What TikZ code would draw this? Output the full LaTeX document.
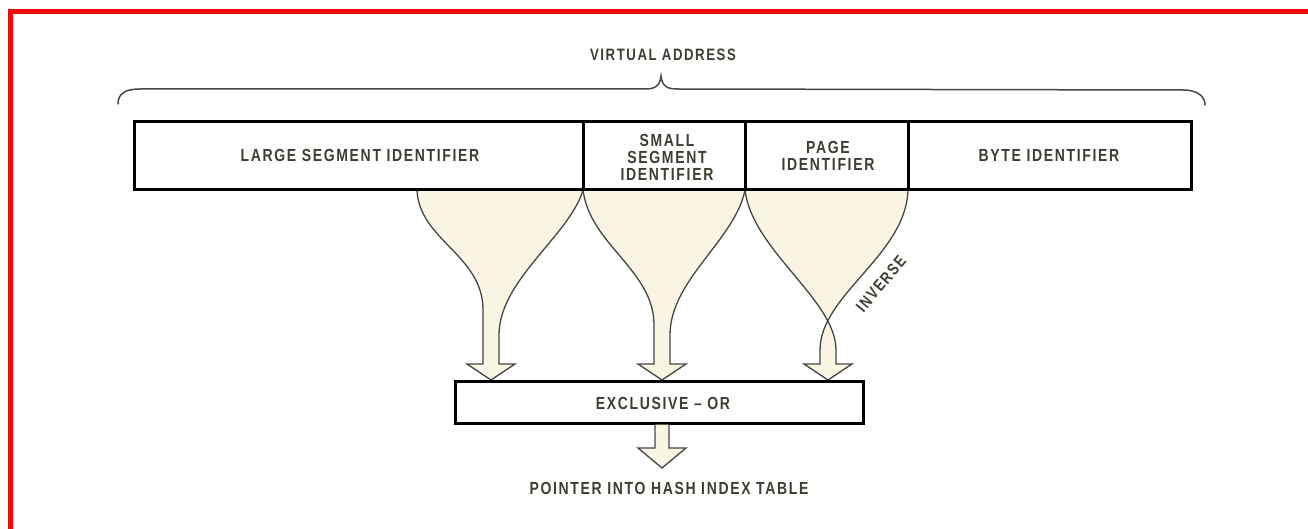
\documentclass[tikz,border=0pt]{standalone}
\usepackage{fontspec}
\newfontfamily\labfont[FakeStretch=0.8,LetterSpace=9.5,UprightFont={* Bold}]{Liberation Sans}
\definecolor{labcol}{RGB}{62,62,50}
\definecolor{cream}{RGB}{250,245,226}
\definecolor{framered}{RGB}{240,10,10}
\definecolor{curvecol}{RGB}{70,70,70}
\tikzset{
  lab/.style={font=\labfont\fontsize{17.5}{17}\selectfont, text=labcol, align=center, inner sep=0pt},
  smalllab/.style={font=\labfont\fontsize{16.5}{17}\selectfont, text=labcol, inner sep=0pt},
  cell/.style={draw=black, line width=3pt, minimum height=68pt, inner sep=0pt, outer sep=0pt},
  funnel/.style={fill=cream, draw=curvecol, line width=1.3pt, line join=miter},
  bracecol/.style={draw=curvecol, line width=1.5pt, line cap=round},
}
\begin{document}
\begin{tikzpicture}[x=1pt,y=-1pt]
\useasboundingbox (0,0) rectangle (1308,529);
\fill[white] (0,0) rectangle (1308,529);
% frame
\draw[framered, line width=5pt] (10.5,529) -- (10.5,12) -- (1308,12);

% title and brace
\node[smalllab] (va) at (663,55) {VIRTUAL ADDRESS};
\coordinate (bl) at (118,104);
\coordinate (br) at (1205,105);
\coordinate (btip) at (661,76);
\draw[bracecol] (bl) .. controls (118,93) and (126,89) .. (140,89) -- (645,89)
  .. controls (655,89) and (660,86) .. (btip)
  .. controls (662,86) and (667,89) .. (677,89) -- (1183,90)
  .. controls (1197,90) and (1205,96) .. (br);

% funnels (drawn first, box drawn on top)
\fill[cream] (417,190) .. controls (419,240) and (483,255) .. (483,310) -- (483,364)
  -- (467,364) -- (491,380) -- (515,364) -- (499,364) -- (499,335)
  .. controls (499,280) and (570,235) .. (583,190) -- cycle;
\draw[funnel, fill=none] (417,190) .. controls (419,240) and (483,255) .. (483,310) -- (483,364)
  -- (467,364) -- (491,380) -- (515,364) -- (499,364) -- (499,335)
  .. controls (499,280) and (570,235) .. (583,190);

\fill[cream] (583,190) .. controls (590,245) and (654,270) .. (654,325) -- (654,364)
  -- (638,364) -- (662,380) -- (686,364) -- (670,364) -- (670,335)
  .. controls (670,280) and (735,240) .. (745,190) -- cycle;
\draw[funnel, fill=none] (583,190) .. controls (590,245) and (654,270) .. (654,325) -- (654,364)
  -- (638,364) -- (662,380) -- (686,364) -- (670,364) -- (670,335)
  .. controls (670,280) and (735,240) .. (745,190);

\fill[cream] (745,190) .. controls (752,250) and (836,300) .. (836,350) -- (836,364)
  -- (852,364) -- (828,380) -- (804,364) -- (820,364) -- (820,350)
  .. controls (820,295) and (906,255) .. (908,190) -- cycle;
\draw[funnel, fill=none] (745,190) .. controls (752,250) and (836,300) .. (836,350) -- (836,364)
  -- (852,364) -- (828,380) -- (804,364) -- (820,364) -- (820,350)
  .. controls (820,295) and (906,255) .. (908,190);

\node[smalllab, rotate=50] (inv) at (881,284) {INVERSE};

% address cells
\node[cell, minimum width=449pt] (large) at (358.5,156) {};
\node[cell, minimum width=162pt] (small) at (664,156) {};
\node[cell, minimum width=163pt] (page) at (826.5,156) {};
\node[cell, minimum width=283pt] (byte) at (1049.5,156) {};
\node[lab] at (360,155) {LARGE SEGMENT IDENTIFIER};
\node[lab] at (667,157) {SMALL\\SEGMENT\\IDENTIFIER};
\node[lab] at (828,155.5) {PAGE\\IDENTIFIER};
\node[lab] at (1049,155) {BYTE IDENTIFIER};

% xor box
\node[draw=black, line width=3pt, minimum width=408pt, minimum height=42pt, inner sep=0pt] (xor) at (659,402) {};
\node[lab] at (663,403) {EXCLUSIVE – OR};

% output arrow
\coordinate (outtip) at (662,468);
\draw[funnel] (655,424.5) -- (655,448) -- (638,448) -- (outtip) -- (686,448) -- (669,448) -- (669,424.5);
\node[lab] (ptr) at (669,488) {POINTER INTO HASH INDEX TABLE};
\end{tikzpicture}
\end{document}
